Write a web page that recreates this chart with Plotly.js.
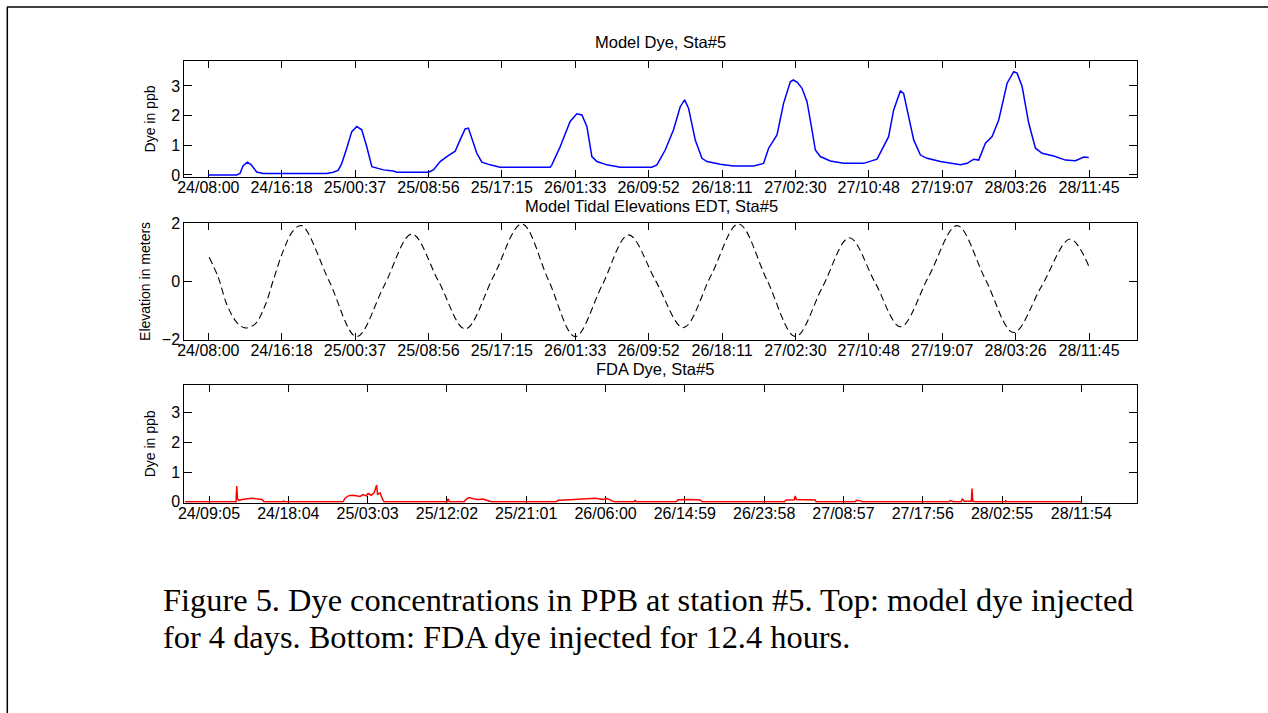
<!DOCTYPE html>
<html>
<head>
<meta charset="utf-8">
<script src="https://cdn.plot.ly/plotly-3.0.1.min.js"></script>
<style>
  html, body { margin: 0; padding: 0; background: #fff; }
  #chart { width: 1268px; height: 713px; }
</style>
</head>
<body>
<div id="chart"></div>
<script>
// ---------- DATA ----------
// Titles
const titleDye = "Model Dye, Sta#5";
const titleTide = "Model Tidal Elevations EDT, Sta#5";
const titleFDA = "FDA Dye, Sta#5";
const captionLine1 = "Figure 5. Dye concentrations in PPB at station #5. Top: model dye injected";
const captionLine2 = "for 4 days. Bottom: FDA dye injected for 12.4 hours.";

// Tick labels (day/hour:minute)
const modelTickLabels = ["24/08:00","24/16:18","25/00:37","25/08:56","25/17:15","26/01:33","26/09:52","26/18:11","27/02:30","27/10:48","27/19:07","28/03:26","28/11:45"];
const tideTickLabels  = ["24/08:00","24/16:18","25/00:37","25/08:56","25/17:15","26/01:33","26/09:52","26/18:11","27/02:30","27/10:48","27/19:07","28/03:26","28/11:45"];
const fdaTickLabels   = ["24/09:05","24/18:04","25/03:03","25/12:02","25/21:01","26/06:00","26/14:59","26/23:58","27/08:57","27/17:56","28/02:55","28/11:54"];

// Series start times
const modelStart = "24/08:00";
const fdaStart = "24/09:05";

// Model dye: hours after model start, concentration (ppb)
const dyeHours = [0,3.22,3.59,3.93,4.42,4.84,5.48,6.2,13.42,14.13,14.7,15.12,15.68,16.25,16.82,17.38,17.95,18.52,19.83,20.96,21.35,24.93,25.5,26.26,27.01,27.96,28.52,29.09,29.46,29.85,30.41,30.98,31.92,33.05,38.72,38.91,39.85,40.98,41.74,42.31,42.88,43.44,44.01,45.14,46.65,50.24,50.81,51.75,52.69,53.45,53.94,54.39,55.15,55.91,56.48,57.98,59.49,61.76,62.89,63.46,64.41,65.16,65.92,66.26,66.71,67.24,67.81,68.37,68.75,69.31,70.45,71.95,74.22,75.74,76.49,77.05,77.62,78.38,78.75,79.32,79.89,80.65,81.41,82.91,84.05,85.18,85.94,86.69,87.25,88.01,88.77,89.52,90.47,91.22,91.6,92.17,92.92,93.68,94.43,95.75,97.08,98.21,99.15,99.72];
const dyeValues = [0,0,0.05,0.3,0.43,0.35,0.1,0.05,0.05,0.09,0.15,0.39,0.9,1.46,1.63,1.52,0.95,0.28,0.17,0.13,0.09,0.09,0.17,0.45,0.62,0.8,1.18,1.55,1.58,1.26,0.73,0.43,0.34,0.26,0.26,0.34,0.95,1.8,2.06,2.02,1.63,0.62,0.45,0.34,0.26,0.26,0.34,0.84,1.52,2.3,2.53,2.25,1.18,0.56,0.45,0.36,0.3,0.3,0.39,0.9,1.35,2.42,3.14,3.2,3.12,2.92,2.47,1.52,0.84,0.62,0.47,0.39,0.39,0.53,0.95,1.29,2.19,2.83,2.75,1.97,1.18,0.67,0.56,0.45,0.39,0.34,0.39,0.53,0.5,1.07,1.29,1.85,3.09,3.48,3.43,2.98,1.74,0.9,0.73,0.64,0.5,0.48,0.6,0.59];

// Tidal elevation: hours after model start, elevation (m)
const tideHours = [0.1,1.13,2.08,3.22,4.16,5.29,6.42,7.37,8.5,9.63,10.58,13.69,16.8,19.93,23.05,26.08,29.1,32.3,35.5,38.53,41.55,44.58,47.6,50.7,53.8,56.93,60.06,63.28,66.5,69.55,72.6,75.5,78.4,81.6,84.8,88.0,91.2,94.4,97.6,99.7];
const tideValues = [0.83,0.14,-0.78,-1.41,-1.6,-1.47,-0.84,0.05,1.06,1.75,1.92,0.01,-1.9,-0.14,1.63,0.0,-1.64,0.17,1.98,0.04,-1.9,-0.15,1.6,0.0,-1.59,0.2,1.98,0.04,-1.9,-0.2,1.5,-0.03,-1.56,0.18,1.92,0.08,-1.76,-0.15,1.46,0.54];

// FDA dye: hours after FDA start, concentration (ppb)
const fdaHours = [-2.72,3.06,3.14,3.23,3.4,3.74,4.31,4.87,5.33,6.01,6.23,8.39,8.44,8.5,15.18,15.41,15.78,16.2,16.66,17.11,17.45,17.79,18.02,18.36,18.7,18.98,19.09,19.38,19.6,19.83,26.97,27.08,27.2,28.9,29.12,29.46,29.92,30.48,31.05,31.5,31.95,39.32,39.55,40.91,42.38,43.74,44.65,45.1,45.67,45.89,48.16,48.27,48.39,52.92,53.14,54.5,55.64,55.86,65.16,65.38,66.29,66.4,66.52,67.65,68.67,68.78,73.2,73.31,73.77,74.0,83.85,83.97,84.31,85.21,85.33,85.55,86.35,86.43,86.52,86.8,90.2,90.25,90.31,98.81];
const fdaValues = [0,0,0.53,0.1,0.05,0.08,0.1,0.12,0.1,0.08,0,0,0.04,0,0,0.12,0.2,0.22,0.2,0.18,0.24,0.2,0.28,0.22,0.3,0.56,0.25,0.3,0.12,0,0,0.1,0,0,0.08,0.14,0.1,0.08,0.09,0.05,0,0,0.05,0.07,0.1,0.12,0.08,0.11,0.03,0,0,0.06,0,0,0.07,0.08,0.06,0,0,0.06,0.07,0.2,0.08,0.07,0.06,0,0,0.05,0.04,0,0,0.04,0,0,0.1,0.02,0.02,0.45,0.02,0,0,0.05,0,0];

// ---------- HELPERS ----------
// "DD/HH:MM" -> hours since day-24 midnight
function labelToHours(s) {
  const [d, hm] = s.split("/");
  const [h, m] = hm.split(":");
  return (parseInt(d, 10) - 24) * 24 + parseInt(h, 10) + parseInt(m, 10) / 60;
}
const modelT0 = labelToHours(modelStart);
const fdaT0 = labelToHours(fdaStart);

// ---------- LAYOUT GEOMETRY (page pixels) ----------
const W = 1268, H = 713;
const px = v => v / W;
const py = v => 1 - v / H;
const xDom = [px(184.3), px(1137)];

const fontTick = { family: "Liberation Sans, Arial, sans-serif", size: 16, color: "#000" };
const fontTitle = { family: "Liberation Sans, Arial, sans-serif", size: 16.5, color: "#000" };
const fontYT = { family: "Liberation Sans, Arial, sans-serif", size: 14, color: "#000" };

function xAxis(labels, range, anchor) {
  return {
    domain: xDom,
    range: range,
    tickmode: "array",
    tickvals: labels.map(labelToHours),
    ticktext: labels,
    ticks: "inside",
    ticklen: 7,
    tickwidth: 1,
    tickcolor: "#000",
    showline: true,
    linecolor: "#000",
    linewidth: 1,
    mirror: "ticks",
    showgrid: false,
    zeroline: false,
    tickfont: fontTick,
    anchor: anchor,
    layer: "below traces",
    ticklabelstandoff: -4
  };
}
function yAxis(dom, range, tickvals, title, anchor, standoff) {
  return {
    domain: dom,
    range: range,
    tickmode: "array",
    tickvals: tickvals,
    ticks: "inside",
    ticklen: 8,
    tickwidth: 1,
    tickcolor: "#000",
    showline: true,
    linecolor: "#000",
    linewidth: 1,
    mirror: "ticks",
    showgrid: false,
    zeroline: false,
    tickfont: fontTick,
    title: { text: title, font: fontYT, standoff: standoff },
    anchor: anchor,
    layer: "below traces"
  };
}

const traces = [
  {
    x: dyeHours.map(h => h + modelT0), y: dyeValues,
    type: "scatter", mode: "lines",
    line: { color: "#0000ff", width: 1.5 },
    xaxis: "x", yaxis: "y", hoverinfo: "skip"
  },
  {
    x: tideHours.map(h => h + modelT0), y: tideValues,
    type: "scatter", mode: "lines",
    line: { color: "#000", width: 1.1, dash: "7px,4px", shape: "spline", smoothing: 1 },
    xaxis: "x2", yaxis: "y2", hoverinfo: "skip"
  },
  {
    x: fdaHours.map(h => h + fdaT0), y: fdaValues,
    type: "scatter", mode: "lines",
    line: { color: "#ff0000", width: 1.5 },
    xaxis: "x3", yaxis: "y3", hoverinfo: "skip"
  }
];

const modelRange = [5.283, 113.18];
const fdaRange = [6.283, 114.2];

const layout = {
  width: W, height: H,
  margin: { l: 0, r: 0, t: 0, b: 0, pad: 0 },
  paper_bgcolor: "#fff",
  plot_bgcolor: "#fff",
  showlegend: false,
  xaxis: xAxis(modelTickLabels, modelRange, "y"),
  yaxis: yAxis([py(177), py(61)], [-0.07, 3.84], [0, 1, 2, 3], "Dye in ppb", "x", 12),
  xaxis2: xAxis(tideTickLabels, modelRange, "y2"),
  yaxis2: yAxis([py(339.5), py(223.3)], [-2, 2], [-2, 0, 2], "Elevation in meters", "x2", 7),
  xaxis3: xAxis(fdaTickLabels, fdaRange, "y3"),
  yaxis3: yAxis([py(502.7), py(385)], [-0.03, 3.93], [0, 1, 2, 3], "Dye in ppb", "x3", 12),
  annotations: [
    { text: titleDye, xref: "paper", yref: "paper", x: (xDom[0] + xDom[1]) / 2, y: py(42.5), xanchor: "center", yanchor: "middle", showarrow: false, font: fontTitle },
    { text: titleTide, xref: "paper", yref: "paper", x: (xDom[0] + xDom[1]) / 2 - px(9), y: py(206), xanchor: "center", yanchor: "middle", showarrow: false, font: fontTitle },
    { text: titleFDA, xref: "paper", yref: "paper", x: (xDom[0] + xDom[1]) / 2 - px(6), y: py(369), xanchor: "center", yanchor: "middle", showarrow: false, font: fontTitle },
    { text: captionLine1, xref: "paper", yref: "paper", x: px(161), y: py(612), xanchor: "left", yanchor: "bottom", showarrow: false, yshift: -8,
      font: { family: "Liberation Serif, Times New Roman, serif", size: 32.4, color: "#000" } },
    { text: captionLine2, xref: "paper", yref: "paper", x: px(161), y: py(648.5), xanchor: "left", yanchor: "bottom", showarrow: false, yshift: -8,
      font: { family: "Liberation Serif, Times New Roman, serif", size: 32.4, color: "#000" } }
  ],
  shapes: [
    { type: "line", xref: "paper", yref: "paper", x0: px(7), x1: 1, y0: py(7), y1: py(7), line: { color: "#000", width: 1.5 } },
    { type: "line", xref: "paper", yref: "paper", x0: px(7.3), x1: px(7.3), y0: py(7), y1: 0, line: { color: "#000", width: 1.5 } }
  ]
};

Plotly.newPlot("chart", traces, layout, { staticPlot: true, displayModeBar: false });
</script>
</body>
</html>
